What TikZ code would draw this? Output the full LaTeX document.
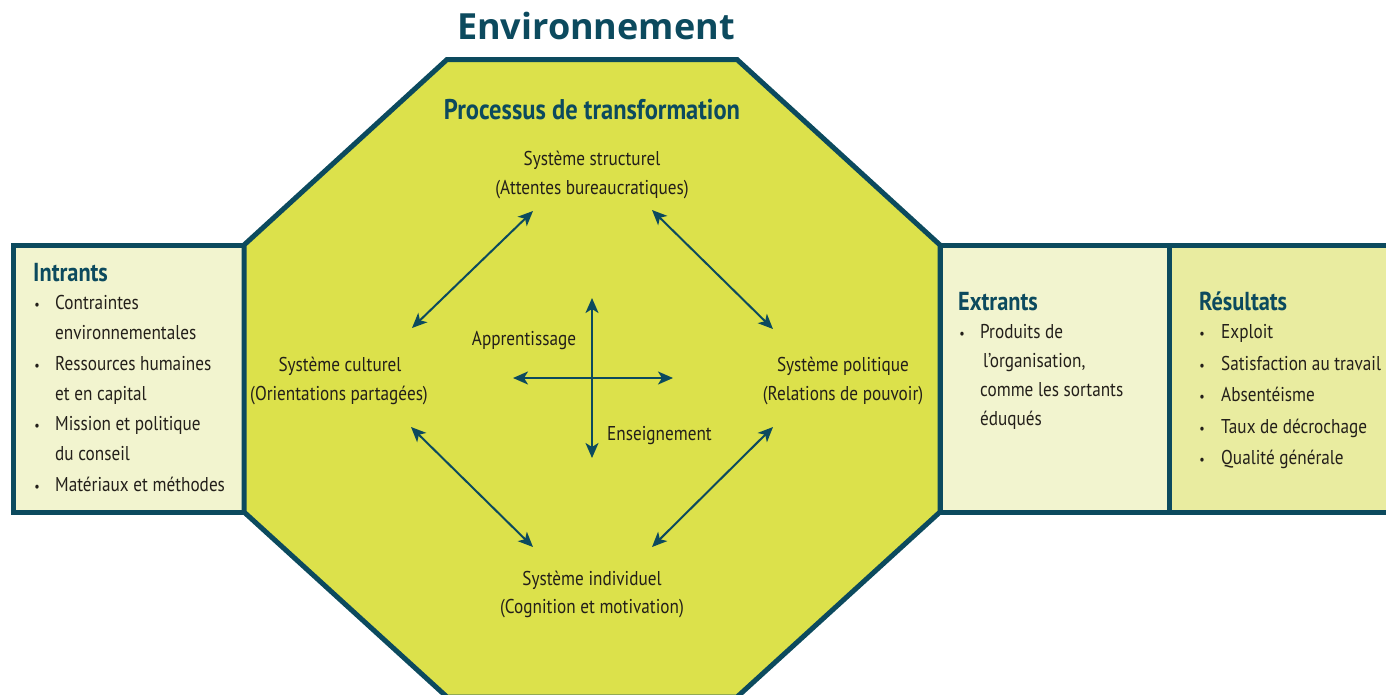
\documentclass[tikz,border=0pt]{standalone}
\usepackage{fontspec}
\setmainfont{PT Sans}[FakeStretch=0.86]
\newfontfamily\envfont{Open Sans}
\usetikzlibrary{arrows.meta}
\definecolor{teal1}{HTML}{0C4A5E}
\definecolor{octfill}{HTML}{DCE14B}
\definecolor{lightbox}{HTML}{F2F4CF}
\definecolor{resbox}{HTML}{E9ECA0}
\definecolor{txt}{HTML}{231F1A}
\tikzset{
  boxline/.style={draw=teal1, line width=5pt, line join=miter},
  body/.style={font=\fontsize{20}{24}\selectfont, text=txt, inner sep=0pt, anchor=base},
  bodyl/.style={body, anchor=base west},
  bul/.style={font=\fontsize{14}{24}\selectfont, text=txt, inner sep=0pt, anchor=base},
  head/.style={font=\bfseries\fontsize{26}{28}\selectfont, text=teal1, inner sep=0pt, anchor=base west},
  proc/.style={font=\bfseries\fontsize{28.5}{30}\selectfont, text=teal1, inner sep=0pt, anchor=base},
  envt/.style={font=\envfont\bfseries\fontsize{36}{38}\selectfont, text=teal1, inner sep=0pt, anchor=base},
  arr/.style={{Stealth[length=15pt,width=13pt,inset=4pt]}-{Stealth[length=15pt,width=13pt,inset=4pt]}, line width=2pt, draw=teal1}
}
\begin{document}
\begin{tikzpicture}[x=1pt,y=-1pt]
\useasboundingbox (0,0) rectangle (1386,694);
\clip (0,0) rectangle (1386,694);
\fill[white] (0,0) rectangle (1386,694);
% side boxes
\draw[boxline, fill=lightbox] (13.5,245) rectangle (244,512);
\draw[boxline, fill=lightbox] (940,245) rectangle (1169,512);
\draw[boxline, fill=resbox] (1169,245) rectangle (1420,512);
% octagon
\coordinate (o1) at (447,59.5);
\coordinate (o2) at (737,59.5);
\coordinate (o3) at (940,245);
\coordinate (o4) at (940,512);
\coordinate (o5) at (737,697);
\coordinate (o6) at (447,697);
\coordinate (o7) at (244,512);
\coordinate (o8) at (244,245);
\draw[boxline, fill=octfill] (o1) -- (o2) -- (o3) -- (o4) -- (o5) -- (o6) -- (o7) -- (o8) -- cycle;
% titles
\node[envt] (env) at (596,39) {Environnement};
\node[proc] (proc) at (592,119) {Processus de transformation};
% systems
\node[body] (s1) at (592,165) {Système structurel};
\node[body] (s1b) at (592,194) {(Attentes bureaucratiques)};
\node[body] (s2) at (340,371) {Système culturel};
\node[body] (s2b) at (339,400) {(Orientations partagées)};
\node[body] (s3) at (843,371) {Système politique};
\node[body] (s3b) at (843,400) {(Relations de pouvoir)};
\node[body] (s4) at (592,585) {Système individuel};
\node[body] (s4b) at (592,613) {(Cognition et motivation)};
\node[body] (app) at (524,345) {Apprentissage};
\node[body] (ens) at (659.5,440) {Enseignement};
% arrows between systems
\coordinate (a1s) at (412,328); \coordinate (a1e) at (533,211);
\coordinate (a2s) at (652,210); \coordinate (a2e) at (773,329);
\coordinate (a3s) at (411,427); \coordinate (a3e) at (533,547);
\coordinate (a4s) at (773,427); \coordinate (a4e) at (652,547);
\draw[arr] (a1s) -- (a1e);
\draw[arr] (a2s) -- (a2e);
\draw[arr] (a3s) -- (a3e);
\draw[arr] (a4s) -- (a4e);
% cross
\coordinate (vt) at (592,298); \coordinate (vb) at (592,458);
\coordinate (hl) at (513,378); \coordinate (hr) at (673,378);
\draw[arr] (vt) -- (vb);
\draw[arr] (hl) -- (hr);
% Intrants
\node[head] (inh) at (33,281) {Intrants};
\node[bul] (ib1) at (37,309) {•};
\node[bodyl] (i1) at (55,309) {Contraintes};
\node[bodyl] (i2) at (55,339) {environnementales};
\node[bul] (ib2) at (37,370) {•};
\node[bodyl] (i3) at (55,370) {Ressources humaines};
\node[bodyl] (i4) at (55,400) {et en capital};
\node[bul] (ib3) at (37,430) {•};
\node[bodyl] (i5) at (55,430) {Mission et politique};
\node[bodyl] (i6) at (55,460) {du conseil};
\node[bul] (ib4) at (37,491) {•};
\node[bodyl] (i7) at (55,491) {Matériaux et méthodes};
% Extrants
\node[head] (exh) at (958,310) {Extrants};
\node[bul] (eb1) at (962,338) {•};
\node[bodyl] (e1) at (980,338) {Produits de};
\node[bodyl] (e2) at (983,367) {l’organisation,};
\node[bodyl] (e3) at (980,396) {comme les sortants};
\node[bodyl] (e4) at (980,425) {éduqués};
% Resultats
\node[head] (rh) at (1199,310) {Résultats};
\node[bul] (rb1) at (1202,338) {•};
\node[bodyl] (r1) at (1221,338) {Exploit};
\node[bul] (rb2) at (1202,370) {•};
\node[bodyl] (r2) at (1221,370) {Satisfaction au travail};
\node[bul] (rb3) at (1202,401) {•};
\node[bodyl] (r3) at (1221,401) {Absentéisme};
\node[bul] (rb4) at (1202,433) {•};
\node[bodyl] (r4) at (1221,433) {Taux de décrochage};
\node[bul] (rb5) at (1202,464) {•};
\node[bodyl] (r5) at (1221,464) {Qualité générale};
\end{tikzpicture}
\end{document}
